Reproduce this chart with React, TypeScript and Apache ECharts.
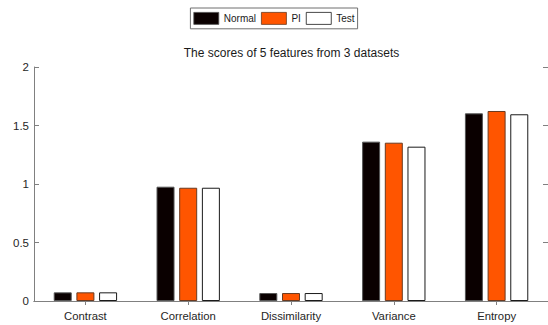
import React, { useEffect, useRef } from "react";
import * as echarts from "echarts";

const categories = ["Contrast", "Correlation", "Dissimilarity", "Variance", "Entropy"];
const normalValues = [0.074, 0.977, 0.068, 1.362, 1.604];
const piValues = [0.074, 0.968, 0.068, 1.353, 1.624];
const testValues = [0.074, 0.968, 0.068, 1.319, 1.596];
const seriesNames = ["Normal", "PI", "Test"];
const titleText = "The scores of 5 features from 3 datasets";

const FONT = "'Liberation Sans', Arial, Helvetica, sans-serif";
const AXIS_GRAY = "#808080";

export default function App() {
  const ref = useRef<HTMLDivElement>(null);
  useEffect(() => {
    document.body.style.margin = "0";
    if (!ref.current) return;
    const chart = echarts.init(ref.current, null, { renderer: "svg" });
    const barCommon = {
      type: "bar" as const,
      barWidth: 18,
      barGap: "26%",
    };
    chart.setOption({
      animation: false,
      backgroundColor: "#ffffff",
      title: {
        text: titleText,
        left: 291.5,
        textAlign: "center",
        top: 47,
        padding: 0,
        textStyle: { fontFamily: FONT, fontSize: 12, fontWeight: "normal", color: "#1a1a1a" },
      },
      legend: {
        data: seriesNames,
        left: "center",
        top: 8,
        selectedMode: false,
        orient: "horizontal",
        icon: "rect",
        itemWidth: 25,
        itemHeight: 12,
        itemGap: 5,
        padding: [4, 3, 4, 3],
        borderColor: "#6f6f6f",
        borderWidth: 1,
        backgroundColor: "#ffffff",
        itemStyle: { borderWidth: 0.8 },
        textStyle: { fontFamily: FONT, fontSize: 10, color: "#1a1a1a" },
      },
      grid: { left: 34, top: 67, width: 515, height: 234, containLabel: false },
      xAxis: [
        {
          type: "category",
          data: categories,
          position: "bottom",
          boundaryGap: true,
          axisLine: { show: true, lineStyle: { color: AXIS_GRAY, width: 1 } },
          axisTick: { show: true, inside: true, alignWithLabel: true, length: 4, lineStyle: { color: AXIS_GRAY } },
          axisLabel: { fontFamily: FONT, fontSize: 11.3, color: "#262626", margin: 9 },
          splitLine: { show: false },
        },
        {
          type: "category",
          data: categories,
          position: "top",
          boundaryGap: true,
          axisLine: { show: true, lineStyle: { color: AXIS_GRAY, width: 1 } },
          axisTick: { show: true, inside: true, alignWithLabel: true, length: 4, lineStyle: { color: AXIS_GRAY } },
          axisLabel: { show: false },
          splitLine: { show: false },
        },
      ],
      yAxis: [
        {
          type: "value",
          min: 0,
          max: 2,
          interval: 0.5,
          position: "left",
          axisLine: { show: true, lineStyle: { color: AXIS_GRAY, width: 1 } },
          axisTick: { show: true, inside: true, length: 5, lineStyle: { color: AXIS_GRAY } },
          axisLabel: { fontFamily: FONT, fontSize: 11.5, color: "#262626", margin: 5 },
          splitLine: { show: false },
        },
        {
          type: "value",
          min: 0,
          max: 2,
          interval: 0.5,
          position: "right",
          axisLine: { show: true, lineStyle: { color: AXIS_GRAY, width: 1 } },
          axisTick: { show: true, inside: true, length: 5, lineStyle: { color: AXIS_GRAY } },
          axisLabel: { show: false },
          splitLine: { show: false },
        },
      ],
      series: [
        {
          ...barCommon,
          name: seriesNames[0],
          data: normalValues,
          itemStyle: { color: "#0a0000", borderColor: "#555555", borderWidth: 1 },
        },
        {
          ...barCommon,
          name: seriesNames[1],
          data: piValues,
          itemStyle: { color: "#ff5500", borderColor: "#6a3a20", borderWidth: 1 },
        },
        {
          ...barCommon,
          name: seriesNames[2],
          data: testValues,
          itemStyle: { color: "#ffffff", borderColor: "#1a1a1a", borderWidth: 1 },
        },
      ],
    });
    return () => chart.dispose();
  }, []);
  return <div ref={ref} style={{ width: 548, height: 325 }} />;
}
